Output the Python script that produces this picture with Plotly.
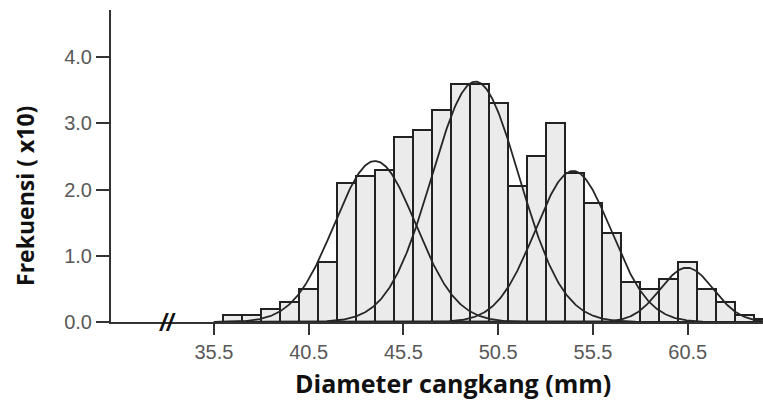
import numpy as np
import plotly.graph_objects as go

# Histogram data (frequency in units of x10)
bin_centers = [36.5, 37.5, 38.5, 39.5, 40.5, 41.5, 42.5, 43.5, 44.5, 45.5,
               46.5, 47.5, 48.5, 49.5, 50.5, 51.5, 52.5, 53.5, 54.5, 55.5,
               56.5, 57.5, 58.5, 59.5, 60.5, 61.5, 62.5, 63.5, 64.5]
counts = [0.1, 0.1, 0.2, 0.3, 0.5, 0.9, 2.1, 2.2, 2.3, 2.8,
          2.9, 3.2, 3.6, 3.6, 3.3, 2.05, 2.5, 3.0, 2.25, 1.8,
          1.35, 0.6, 0.5, 0.65, 0.9, 0.5, 0.3, 0.1, 0.05]

# Fitted normal components (mean, sd, peak height)
comp_means = [44.0, 49.3, 54.45, 60.45]
comp_sds = [2.15, 2.3, 2.0, 1.4]
comp_peaks = [2.43, 3.63, 2.28, 0.82]

x_ticks = [35.5, 40.5, 45.5, 50.5, 55.5, 60.5]
x_tick_labels = ["35.5", "40.5", "45.5", "50.5", "55.5", "60.5"]
y_ticks = [0, 1, 2, 3, 4]
y_tick_labels = ["0.0", "1.0", "2.0", "3.0", "4.0"]

fig = go.Figure()
fig.add_trace(go.Bar(
    x=bin_centers, y=counts, width=1.0,
    marker=dict(color="#ebebeb", line=dict(color="#222222", width=2)),
    showlegend=False, hoverinfo="skip",
))

xs = np.arange(35.5, 64.55, 0.05)
for m, s, p in zip(comp_means, comp_sds, comp_peaks):
    ys = p * np.exp(-0.5 * ((xs - m) / s) ** 2)
    fig.add_trace(go.Scatter(
        x=xs, y=ys, mode="lines",
        line=dict(color="#262626", width=1.8),
        showlegend=False, hoverinfo="skip",
    ))

tick_font = dict(family="Liberation Sans, Arial", size=20, color="#585858")

fig.update_layout(
    width=763, height=402,
    margin=dict(l=111, r=0, t=10, b=80),
    paper_bgcolor="white", plot_bgcolor="white",
    bargap=0,
    xaxis=dict(
        range=[30.07, 64.47], showgrid=False, zeroline=False,
        showline=True, linecolor="#333333", linewidth=2,
        ticks="outside", ticklen=11, tickwidth=2, tickcolor="#333333",
        tickvals=x_ticks, ticktext=x_tick_labels, tickfont=tick_font,
    ),
    yaxis=dict(
        range=[0, 4.71], showgrid=False, zeroline=False,
        showline=True, linecolor="#333333", linewidth=2,
        ticks="outside", ticklen=13, tickwidth=2, tickcolor="#333333",
        tickvals=y_ticks, ticktext=y_tick_labels, tickfont=tick_font,
    ),
    annotations=[
        dict(text="Diameter cangkang (mm)", xref="paper", yref="paper",
             x=0.5245, y=-0.1955, xanchor="center", yanchor="middle",
             showarrow=False,
             font=dict(family="Open Sans, Lato", size=25, color="#111111", weight="bold")),
        dict(text="Frekuensi ( x10)", xref="paper", yref="paper",
             x=0, xshift=-86, y=0.404, xanchor="center", yanchor="middle",
             textangle=-90, showarrow=False,
             font=dict(family="Open Sans, Lato", size=23, color="#111111", weight="bold")),
        dict(text="<i>//</i>", xref="x", yref="y", x=33.05, y=0,
             xanchor="center", yanchor="middle", showarrow=False,
             font=dict(family="Liberation Sans, Arial", size=24, color="#111111", weight="bold")),
    ],
)

fig.write_html("out.html", config={"displayModeBar": False},
               post_script="document.body.style.margin='0';")
